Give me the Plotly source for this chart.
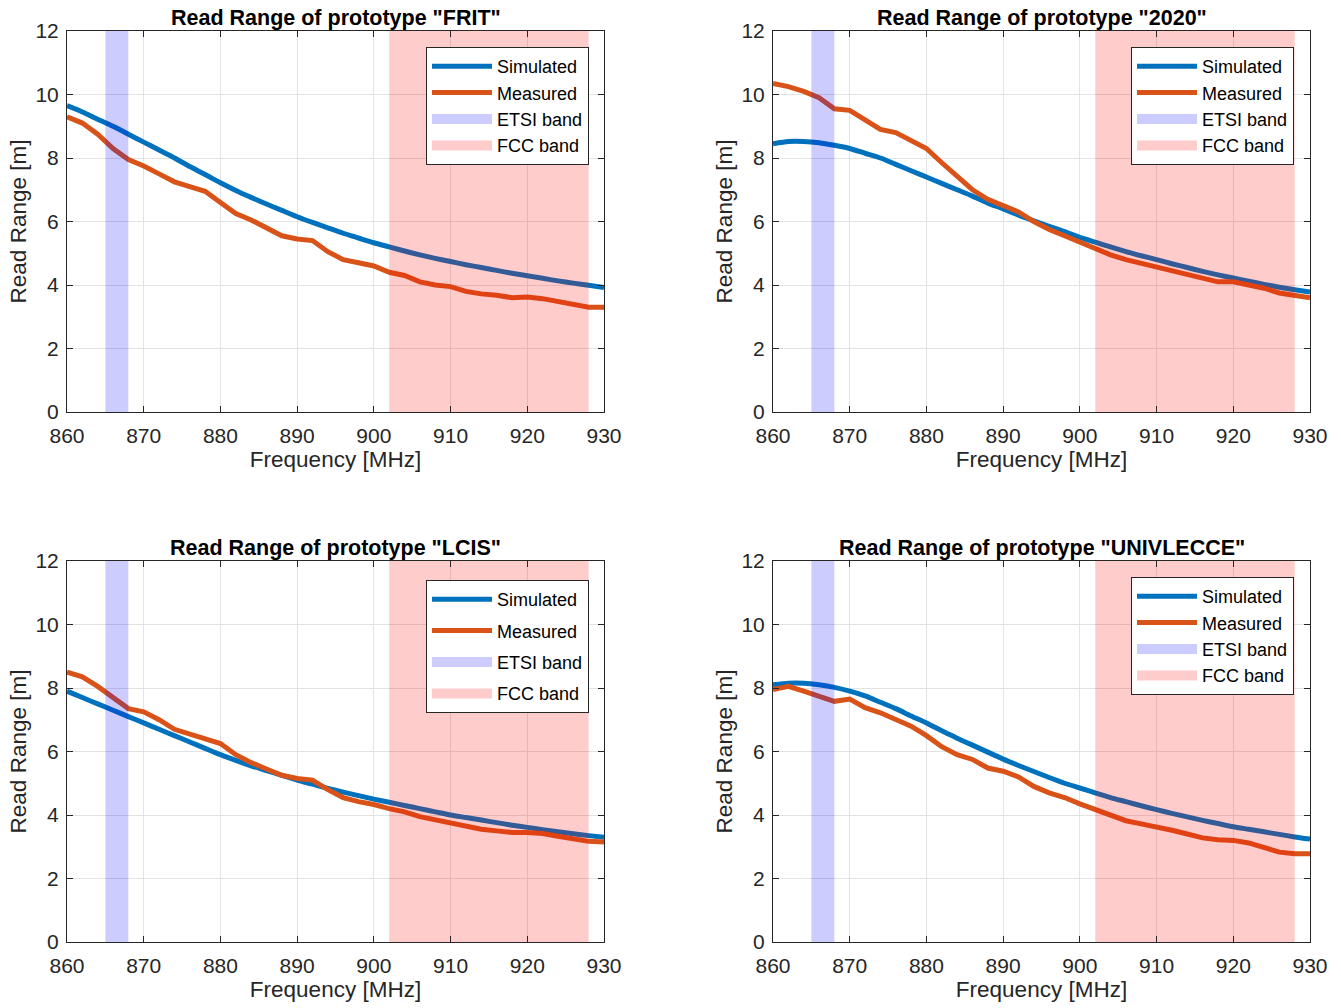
import plotly.graph_objects as go

freq = list(range(860, 931, 2))

titles = ['Read Range of prototype "FRIT"', 'Read Range of prototype "2020"',
          'Read Range of prototype "LCIS"', 'Read Range of prototype "UNIVLECCE"']

sim_frit = [9.65, 9.45, 9.22, 9.0, 8.75, 8.5, 8.25, 8.0, 7.73, 7.48, 7.22, 6.98, 6.76, 6.55,
            6.35, 6.15, 5.97, 5.8, 5.63, 5.48, 5.33, 5.2, 5.07, 4.95, 4.84, 4.74, 4.64, 4.55,
            4.46, 4.37, 4.29, 4.21, 4.13, 4.06, 3.99, 3.92]
meas_frit = [9.3, 9.1, 8.75, 8.3, 7.95, 7.75, 7.5, 7.25, 7.1, 6.95, 6.6, 6.25, 6.05, 5.8,
             5.55, 5.45, 5.4, 5.05, 4.8, 4.7, 4.6, 4.4, 4.3, 4.1, 4.0, 3.95, 3.8, 3.72,
             3.68, 3.6, 3.62, 3.57, 3.47, 3.37, 3.3, 3.3]

sim_2020 = [8.45, 8.52, 8.52, 8.48, 8.4, 8.3, 8.15, 8.0, 7.8, 7.6, 7.4, 7.2, 7.0, 6.8,
            6.58, 6.4, 6.2, 6.02, 5.85, 5.68, 5.5, 5.35, 5.2, 5.05, 4.92, 4.8, 4.67, 4.55,
            4.43, 4.32, 4.22, 4.12, 4.02, 3.93, 3.85, 3.78]
meas_2020 = [10.35, 10.25, 10.1, 9.9, 9.55, 9.5, 9.2, 8.9, 8.8, 8.55, 8.3, 7.85, 7.4, 7.0,
             6.7, 6.5, 6.3, 6.0, 5.75, 5.55, 5.35, 5.15, 4.95, 4.8, 4.68, 4.58, 4.45, 4.3,
             4.2, 4.1, 4.1, 4.0, 3.9, 3.75, 3.67, 3.6]

sim_lcis = [7.9, 7.7, 7.5, 7.3, 7.1, 6.9, 6.7, 6.5, 6.3, 6.1, 5.9, 5.72, 5.55, 5.4,
            5.25, 5.1, 4.97, 4.84, 4.72, 4.61, 4.5, 4.4, 4.3, 4.2, 4.1, 4.0, 3.92, 3.84,
            3.76, 3.68, 3.61, 3.54, 3.47, 3.41, 3.35, 3.3]
meas_lcis = [8.5, 8.35, 8.05, 7.7, 7.35, 7.25, 7.0, 6.7, 6.55, 6.42, 6.25, 5.9, 5.65, 5.45,
             5.25, 5.15, 5.1, 4.8, 4.55, 4.42, 4.33, 4.2, 4.1, 3.95, 3.85, 3.75, 3.62, 3.55,
             3.5, 3.45, 3.45, 3.42, 3.33, 3.25, 3.17, 3.15]

sim_univ = [8.1, 8.15, 8.15, 8.1, 8.02, 7.9, 7.75, 7.55, 7.35, 7.12, 6.9, 6.65, 6.42, 6.2,
            5.98, 5.76, 5.56, 5.37, 5.18, 5.0, 4.85, 4.7, 4.55, 4.42, 4.29, 4.17, 4.05, 3.94,
            3.83, 3.73, 3.63, 3.55, 3.47, 3.39, 3.31, 3.24]
meas_univ = [7.95, 8.05, 7.9, 7.75, 7.58, 7.65, 7.38, 7.22, 7.0, 6.8, 6.5, 6.15, 5.9, 5.75,
             5.48, 5.38, 5.2, 4.9, 4.7, 4.55, 4.35, 4.17, 4.0, 3.82, 3.72, 3.63, 3.52, 3.4,
             3.28, 3.22, 3.2, 3.12, 2.98, 2.83, 2.78, 2.78]

sim_all = [sim_frit, sim_2020, sim_lcis, sim_univ]
meas_all = [meas_frit, meas_2020, meas_lcis, meas_univ]

etsi_band = [865, 868]
fcc_band = [902, 928]
y_range = [0, 12]
x_range = [860, 930]

W, H = 1341, 1008
# axes pixel boxes (left, right, top, bottom)
boxes = [(67, 604, 31, 412), (773, 1310, 31, 412), (67, 604, 561, 942), (773, 1310, 561, 942)]
legend_pos = [(589, 47, 0), (1294, 47, 0), (589, 580, 5), (1294, 577, 0)]

ETSI_COL = "rgba(0,0,255,0.2)"
FCC_COL = "rgba(255,0,0,0.2)"
FONT = "Liberation Sans, Arial, sans-serif"
fig = go.Figure()
annotations = []
layout = dict(width=W, height=H, margin=dict(l=0, r=0, t=0, b=0, autoexpand=False),
              paper_bgcolor="white", plot_bgcolor="white",
              font=dict(family=FONT, color="#262626"))

for i in range(4):
    xa = "x" if i == 0 else f"x{i+1}"
    ya = "y" if i == 0 else f"y{i+1}"
    lg = "legend" if i == 0 else f"legend{i+1}"
    l, r, t, b = boxes[i]
    xdom = [l / W, r / W]
    ydom = [1 - b / H, 1 - t / H]
    axkey = "xaxis" if i == 0 else f"xaxis{i+1}"
    aykey = "yaxis" if i == 0 else f"yaxis{i+1}"
    common = dict(showline=True, linecolor="#262626", linewidth=1, mirror="ticks",
                  ticks="inside", ticklen=6, tickcolor="#262626", automargin=False,
                  showgrid=True, gridcolor="#e3e3e3", gridwidth=1, zeroline=False,
                  tickfont=dict(size=21, family=FONT, color="#262626"))
    layout[axkey] = dict(domain=xdom, range=x_range, dtick=10, tick0=860,
                         anchor=ya, ticklabelstandoff=5,
                         title=dict(text="Frequency [MHz]", font=dict(size=22.5, family=FONT), standoff=5),
                         **common)
    layout[aykey] = dict(domain=ydom, range=y_range, dtick=2, tick0=0,
                         anchor=xa, ticklabelstandoff=3,
                         title=dict(text="Read Range [m]", font=dict(size=22.5, family=FONT), standoff=2),
                         **common)
    lx, ly, gap = legend_pos[i]
    layout[lg] = dict(x=lx / W, y=1 - ly / H, xanchor="right", yanchor="top",
                      bgcolor="white", bordercolor="#262626", borderwidth=1,
                      font=dict(size=18, family=FONT, color="#000000"),
                      tracegroupgap=gap, traceorder="grouped", itemwidth=60)

    fig.add_trace(go.Scatter(x=freq, y=sim_all[i], mode="lines", name="Simulated",
                             line=dict(color="#0072BD", width=5, shape="spline", smoothing=0.6),
                             xaxis=xa, yaxis=ya, legend=lg, legendgroup=f"s{i}"))
    fig.add_trace(go.Scatter(x=freq, y=meas_all[i], mode="lines", name="Measured",
                             line=dict(color="#D95319", width=5),
                             xaxis=xa, yaxis=ya, legend=lg, legendgroup=f"m{i}"))
    fig.add_trace(go.Scatter(x=[etsi_band[0], etsi_band[1], etsi_band[1], etsi_band[0], etsi_band[0]],
                             y=[y_range[0], y_range[0], y_range[1], y_range[1], y_range[0]],
                             mode="lines", fill="toself", fillcolor=ETSI_COL,
                             line=dict(width=0, color="rgba(0,0,255,0)"), name="ETSI band",
                             showlegend=False, hoverinfo="skip",
                             xaxis=xa, yaxis=ya, legend=lg, legendgroup=f"e{i}"))
    fig.add_trace(go.Scatter(x=[fcc_band[0], fcc_band[1], fcc_band[1], fcc_band[0], fcc_band[0]],
                             y=[y_range[0], y_range[0], y_range[1], y_range[1], y_range[0]],
                             mode="lines", fill="toself", fillcolor=FCC_COL,
                             line=dict(width=0, color="rgba(255,0,0,0)"), name="FCC band",
                             showlegend=False, hoverinfo="skip",
                             xaxis=xa, yaxis=ya, legend=lg, legendgroup=f"f{i}"))
    # legend-only entries for the bands (thick swatches)
    fig.add_trace(go.Scatter(x=[None], y=[None], mode="lines", name="ETSI band",
                             line=dict(color=ETSI_COL, width=18),
                             xaxis=xa, yaxis=ya, legend=lg, legendgroup=f"e{i}"))
    fig.add_trace(go.Scatter(x=[None], y=[None], mode="lines", name="FCC band",
                             line=dict(color=FCC_COL, width=18),
                             xaxis=xa, yaxis=ya, legend=lg, legendgroup=f"f{i}"))
    annotations.append(dict(text=f"<b>{titles[i]}</b>", x=(xdom[0] + xdom[1]) / 2,
                            y=ydom[1], xref="paper", yref="paper", xanchor="center",
                            yanchor="bottom", yshift=-1, showarrow=False,
                            font=dict(size=21.5, family=FONT, color="#000000")))

layout["annotations"] = annotations
layout["showlegend"] = True
fig.update_layout(**layout)
fig.write_html("out.html", config={"displayModeBar": False},
               post_script="document.body.style.margin='0';document.body.style.overflow='hidden';")
